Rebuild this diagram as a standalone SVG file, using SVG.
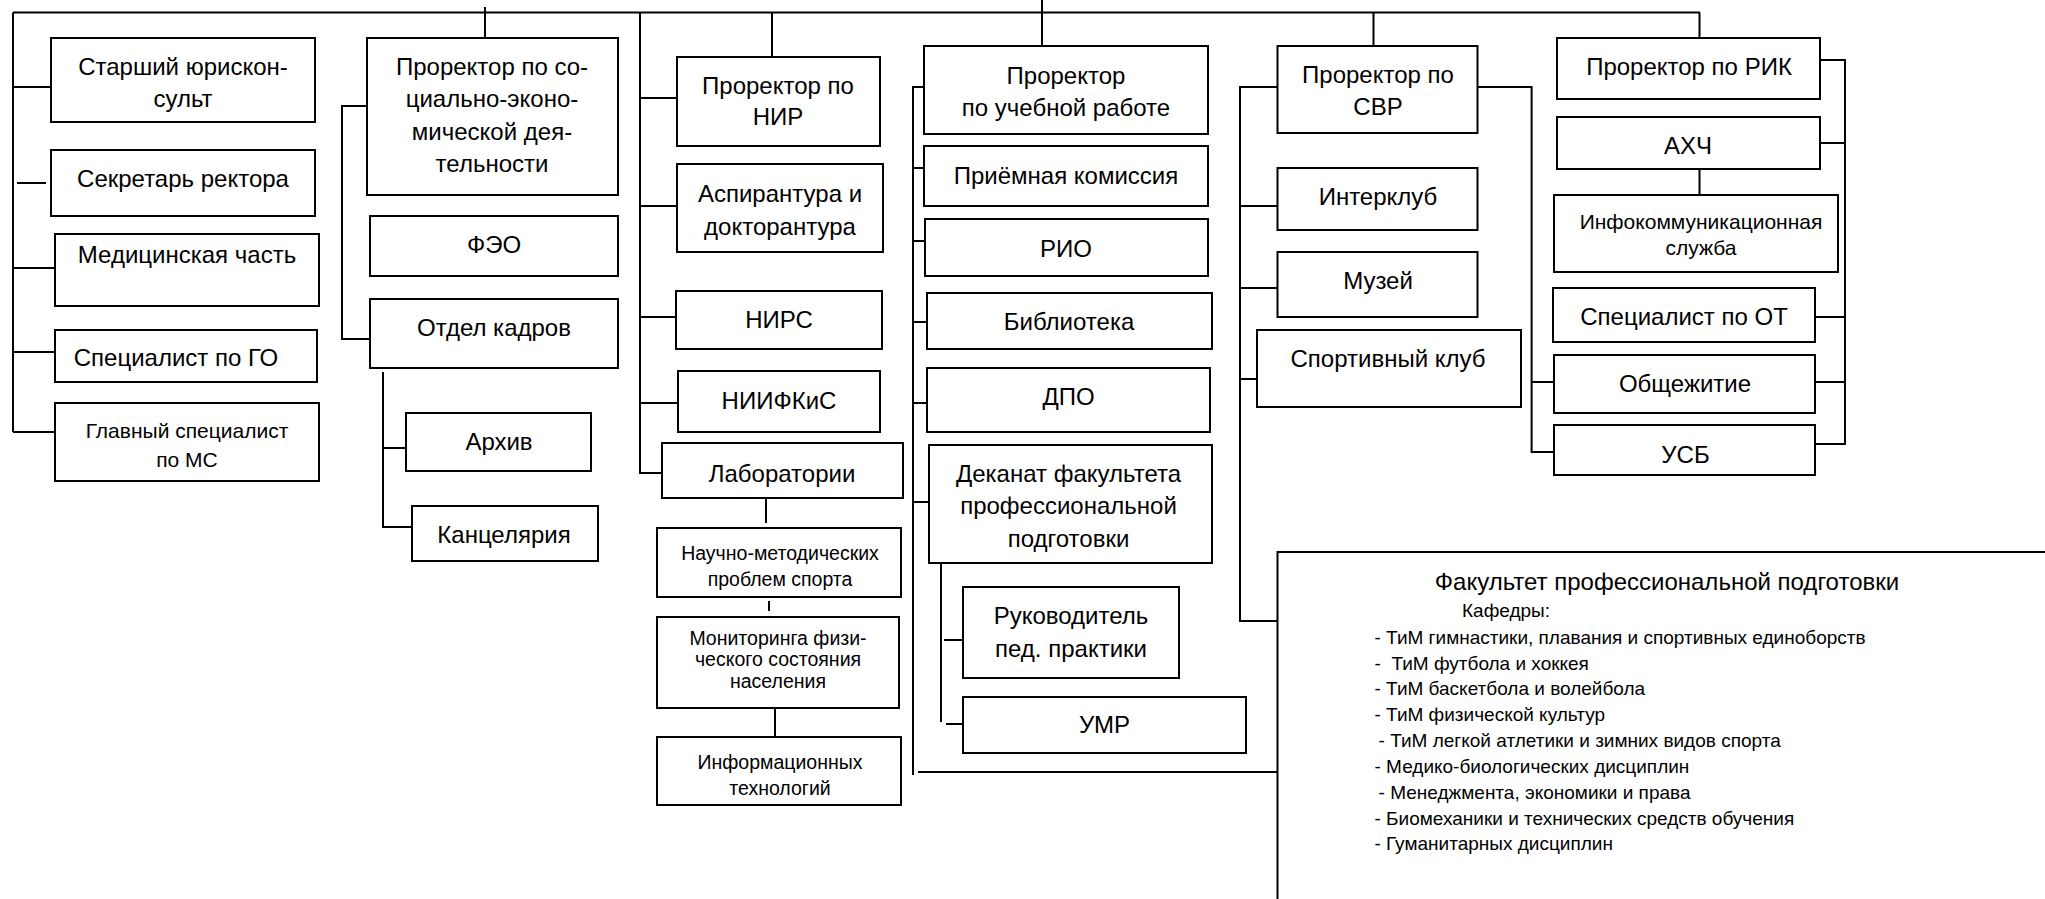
<svg xmlns="http://www.w3.org/2000/svg" width="2045" height="899" viewBox="0 0 2045 899">
<style>
.box{fill:#fff;stroke:#000;stroke-width:2}
.ln{fill:none;stroke:#000;stroke-width:2}
text{font-family:"Liberation Sans",Arial,sans-serif;font-size:24px;fill:#000;text-anchor:middle}
.s{font-size:21px}
.xs{font-size:19.5px}
.l{font-size:19px;text-anchor:start}
</style>
<rect width="2045" height="899" fill="#fff"/>
<g id="connectors" class="ln">
<path d="M13,12.5 H1700"/>
<path d="M13,12.5 V432"/>
<path d="M13,87 H51 M13,268 H55 M13,352 H55 M13,432 H58"/>
<path d="M17,183 H46"/>
<path d="M485,7 V38"/>
<path d="M367,106 H342 V339 H370"/>
<path d="M383,372 V527 H412 M383,448 H406"/>
<path d="M640,12.5 V473 H662 M640,98 H677 M640,206 H677 M640,317 H676 M640,403 H678"/>
<path d="M772,12.5 V57"/>
<path d="M766,498 V523 M769,601 V611 M775,708 V737"/>
<path d="M1042,0 V46"/>
<path d="M924,87 H913 V775 M913,168 H924 M913,241 H925 M913,322 H930 M913,403 H927 M913,502 H929"/>
<path d="M941,563 V722 M944,640 H963 M946,724 H963"/>
<path d="M918,772 H1283"/>
<path d="M1373.5,12.5 V46"/>
<path d="M1277.5,87 H1240 V621 H1277.5 M1240,206 H1277.5 M1240,288 H1277.5 M1240,379 H1257"/>
<path d="M1477.7,87 H1531.6 V452 H1554 M1531.6,382 H1554"/>
<path d="M1699.5,12.5 V38 M1699.5,169 V195"/>
<path d="M1820,60 H1845 V444 H1815 M1820,143 H1845 M1815,317 H1845 M1815,382 H1845"/>
</g>
<g id="n1"><rect class="box" x="51" y="38" width="264" height="84"/><text x="183" y="75">Старший юрискон-</text><text x="183" y="107">сульт</text></g>
<g id="n2"><rect class="box" x="51" y="150" width="264" height="66"/><text x="183" y="187">Секретарь ректора</text></g>
<g id="n3"><rect class="box" x="55" y="234" width="264" height="72"/><text x="187" y="263">Медицинская часть</text></g>
<g id="n4"><rect class="box" x="55" y="330" width="262" height="52"/><text x="176" y="366">Специалист по ГО</text></g>
<g id="n5"><rect class="box" x="55" y="403" width="264" height="78"/><text class="s" x="187" y="438">Главный специалист</text><text class="s" x="187" y="467">по МС</text></g>
<g id="n6"><rect class="box" x="367" y="38" width="251" height="157"/><text x="492" y="75">Проректор по со-</text><text x="492" y="107">циально-эконо-</text><text x="492" y="140">мической дея-</text><text x="492" y="172">тельности</text></g>
<g id="n7"><rect class="box" x="370" y="216" width="248" height="60"/><text x="494" y="253">ФЭО</text></g>
<g id="n8"><rect class="box" x="370" y="299" width="248" height="69"/><text x="494" y="336">Отдел кадров</text></g>
<g id="n9"><rect class="box" x="406" y="413" width="185" height="58"/><text x="499" y="450">Архив</text></g>
<g id="n10"><rect class="box" x="412" y="506" width="186" height="55"/><text x="504" y="543">Канцелярия</text></g>
<g id="n11"><rect class="box" x="677" y="57" width="203" height="89"/><text x="778" y="94">Проректор по</text><text x="778" y="125">НИР</text></g>
<g id="n12"><rect class="box" x="677" y="164" width="206" height="88"/><text x="780" y="201.5">Аспирантура и</text><text x="780" y="235">докторантура</text></g>
<g id="n13"><rect class="box" x="676" y="291" width="206" height="58"/><text x="779" y="327.5">НИРС</text></g>
<g id="n14"><rect class="box" x="678" y="371" width="202" height="61"/><text x="779" y="408.5">НИИФКиС</text></g>
<g id="n15"><rect class="box" x="662" y="443" width="241" height="55"/><text x="782" y="481.5">Лаборатории</text></g>
<g id="n16"><rect class="box" x="657" y="528" width="244" height="69"/><text class="xs" x="780" y="560">Научно-методических</text><text class="xs" x="780" y="586">проблем спорта</text></g>
<g id="n17"><rect class="box" x="657" y="617" width="242" height="91"/><text class="xs" x="778" y="645">Мониторинга физи-</text><text class="xs" x="778" y="666">ческого состояния</text><text class="xs" x="778" y="688">населения</text></g>
<g id="n18"><rect class="box" x="657" y="737" width="244" height="68"/><text class="xs" x="780" y="769">Информационных</text><text class="xs" x="780" y="795">технологий</text></g>
<g id="n19"><rect class="box" x="924" y="46" width="284" height="88"/><text x="1066" y="83.5">Проректор</text><text x="1066" y="116">по учебной работе</text></g>
<g id="n20"><rect class="box" x="924" y="146" width="284" height="60"/><text x="1066" y="184">Приёмная комиссия</text></g>
<g id="n21"><rect class="box" x="925" y="219" width="283" height="57"/><text x="1066" y="256.5">РИО</text></g>
<g id="n22"><rect class="box" x="927" y="293" width="285" height="56"/><text x="1069" y="330">Библиотека</text></g>
<g id="n23"><rect class="box" x="927" y="368" width="283" height="64"/><text x="1068.5" y="405">ДПО</text></g>
<g id="n24"><rect class="box" x="929" y="445" width="283" height="118"/><text x="1068.5" y="481.5">Деканат факультета</text><text x="1068.5" y="513.5">профессиональной</text><text x="1068.5" y="546.5">подготовки</text></g>
<g id="n25"><rect class="box" x="963" y="587" width="216" height="91"/><text x="1071" y="623.5">Руководитель</text><text x="1071" y="657">пед. практики</text></g>
<g id="n26"><rect class="box" x="963" y="697" width="283" height="56"/><text x="1104.5" y="733">УМР</text></g>
<g id="n27"><rect class="box" x="1277.5" y="46" width="200" height="87"/><text x="1378" y="82.5">Проректор по</text><text x="1378" y="115">СВР</text></g>
<g id="n28"><rect class="box" x="1277.5" y="168" width="200" height="62"/><text x="1378" y="205">Интерклуб</text></g>
<g id="n29"><rect class="box" x="1277.5" y="252" width="200" height="65"/><text x="1378" y="288.5">Музей</text></g>
<g id="n30"><rect class="box" x="1257" y="330" width="264" height="77"/><text x="1388" y="367">Спортивный клуб</text></g>
<g id="n31"><rect class="box" x="1557" y="38" width="263" height="61"/><text x="1689" y="75">Проректор по РИК</text></g>
<g id="n32"><rect class="box" x="1557" y="117" width="263" height="52"/><text x="1688" y="154">АХЧ</text></g>
<g id="n33"><rect class="box" x="1554" y="195" width="284" height="77"/><text class="s" x="1701" y="229">Инфокоммуникационная</text><text class="s" x="1701" y="255">служба</text></g>
<g id="n34"><rect class="box" x="1553" y="288" width="262" height="54"/><text x="1684" y="325">Специалист по ОТ</text></g>
<g id="n35"><rect class="box" x="1554" y="355" width="261" height="58"/><text x="1685" y="392">Общежитие</text></g>
<g id="n36"><rect class="box" x="1554" y="425" width="261" height="50"/><text x="1685.5" y="462.5">УСБ</text></g>
<g id="n37"><rect class="box" x="1277.5" y="552" width="800" height="400"/>
<text x="1667" y="590">Факультет профессиональной подготовки</text>
<text class="l" x="1462" y="617">Кафедры:</text>
<text class="l" x="1374.5" y="643.5">- ТиМ гимнастики, плавания и спортивных единоборств</text>
<text class="l" x="1374.5" y="669.5" style="white-space:pre">-  ТиМ футбола и хоккея</text>
<text class="l" x="1374.5" y="695">- ТиМ баскетбола и волейбола</text>
<text class="l" x="1374.5" y="721">- ТиМ физической культур</text>
<text class="l" x="1378.6" y="747">- ТиМ легкой атлетики и зимних видов спорта</text>
<text class="l" x="1374.5" y="773">- Медико-биологических дисциплин</text>
<text class="l" x="1378.6" y="798.5">- Менеджмента, экономики и права</text>
<text class="l" x="1374.5" y="824.5">- Биомеханики и технических средств обучения</text>
<text class="l" x="1374.5" y="850">- Гуманитарных дисциплин</text>
</g>
</svg>
